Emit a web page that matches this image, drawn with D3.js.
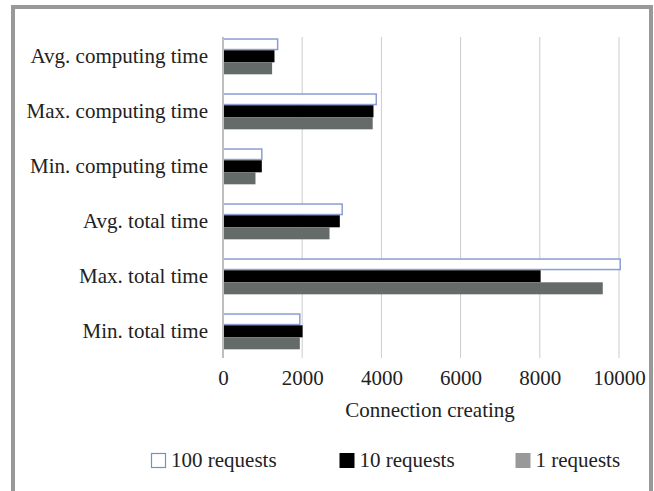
<!DOCTYPE html>
<html>
<head>
<meta charset="utf-8">
<script src="https://cdn.jsdelivr.net/npm/d3@7"></script>
<style>
  html, body { margin: 0; padding: 0; background: #fff; }
  svg { display: block; }
  text { font-family: "Liberation Serif", "Times New Roman", serif; fill: #222; }
</style>
</head>
<body>
<svg id="chart" width="654" height="491"></svg>
<script>
const categories = ["Avg. computing time", "Max. computing time", "Min. computing time",
                    "Avg. total time", "Max. total time", "Min. total time"];
const seriesNames = ["100 requests", "10 requests", "1 requests"];
const req100 = [1380, 3870, 980, 3010, 10030, 1940];
const req10  = [1300, 3800, 980, 2950, 8020, 2010];
const req1   = [1240, 3780, 820, 2690, 9590, 1940];
const xTicks = [0, 2000, 4000, 6000, 8000, 10000];
const axisTitle = "Connection creating";

const seriesValues = [req100, req10, req1];
const table = categories.map((c, i) => ({
  category: c,
  values: seriesNames.map((s, j) => ({ series: s, value: seriesValues[j][i] }))
}));

const svg = d3.select("#chart");
const FS = 21;

// frame
svg.append("rect").attr("x", 13).attr("y", 7).attr("width", 638).attr("height", 520)
  .attr("fill", "none").attr("stroke", "#999").attr("stroke-width", 4);

const x = d3.scaleLinear().domain([0, 10000]).range([223, 619]);
const y = d3.scaleBand().domain(categories).range([28.8, 358.8])
  .paddingInner(0.345).paddingOuter(0.1725);
const ySub = d3.scaleBand().domain(seriesNames).range([0, y.bandwidth()]);

// gridlines
svg.append("g").selectAll("line").data(xTicks.slice(1)).join("line")
  .attr("x1", d => x(d)).attr("x2", d => x(d))
  .attr("y1", 37).attr("y2", 358)
  .attr("stroke", "#cccccc").attr("stroke-width", 1);

const fills = { "100 requests": "#ffffff", "10 requests": "#000000", "1 requests": "#656b69" };
const strokes = { "100 requests": "#8c9dd3" };

const groups = svg.append("g").selectAll("g").data(table).join("g")
  .attr("transform", d => `translate(0,${y(d.category)})`);
groups.selectAll("rect").data(d => d.values).join("rect")
  .attr("x", x(0))
  .attr("y", d => ySub(d.series) + (d.series === "100 requests" ? 0.75 : 0))
  .attr("width", d => x(d.value) - x(0))
  .attr("height", d => ySub.bandwidth() - (d.series === "100 requests" ? 1.5 : 0))
  .attr("fill", d => fills[d.series])
  .attr("stroke", d => strokes[d.series] || "none")
  .attr("stroke-width", 1.5);

// axis line at 0
svg.append("line").attr("x1", x(0)).attr("x2", x(0)).attr("y1", 37).attr("y2", 358)
  .attr("stroke", "#bfbfbf").attr("stroke-width", 2);

// category labels
svg.append("g").selectAll("text").data(categories).join("text")
  .attr("x", 208).attr("y", d => y(d) + y.bandwidth() / 2)
  .attr("dy", "0.3em").attr("text-anchor", "end")
  .attr("font-size", FS).text(d => d);

// x axis tick labels
const xAxis = d3.axisBottom(x).tickValues(xTicks).tickSize(0).tickPadding(0).tickFormat(d3.format("d"));
const ax = svg.append("g").attr("transform", "translate(0,370)").call(xAxis);
ax.select(".domain").remove();
ax.selectAll("text").attr("font-size", FS).attr("fill", "#222");

svg.append("text").attr("x", 430).attr("y", 417).attr("text-anchor", "middle")
  .attr("font-size", FS).text(axisTitle);

// legend
const legendX = [151, 339.5, 515.5];
const lg = svg.append("g").selectAll("g").data(seriesNames).join("g")
  .attr("transform", (d, i) => `translate(${legendX[i]},453)`);
lg.append("rect")
  .attr("x", d => d === "100 requests" ? 0.5 : 0).attr("y", d => d === "100 requests" ? 0.5 : 0)
  .attr("width", d => d === "100 requests" ? 14 : 15).attr("height", d => d === "100 requests" ? 14 : 15)
  .attr("fill", d => d === "100 requests" ? "#fff" : (d === "10 requests" ? "#000" : "#999"))
  .attr("stroke", d => d === "100 requests" ? "#5b9bd5" : "none").attr("stroke-width", 1.2);
lg.append("text").attr("x", 20).attr("y", 14).attr("font-size", FS).text(d => d);
</script>
</body>
</html>
